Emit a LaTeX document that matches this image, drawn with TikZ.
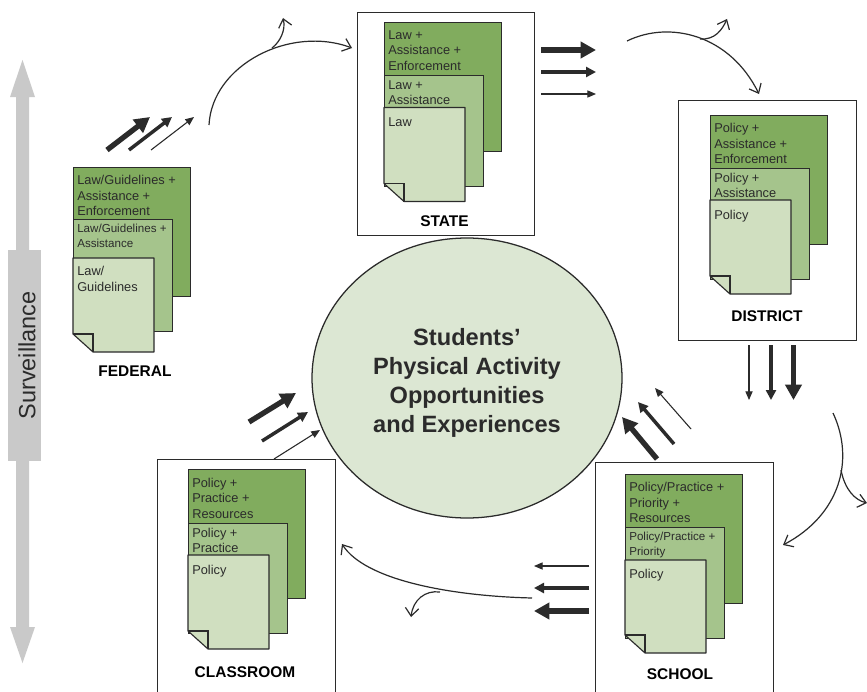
\documentclass[tikz,border=0pt]{standalone}
\usepackage{fontspec}
\setmainfont{Liberation Sans}
\usetikzlibrary{arrows.meta,shapes.geometric}
\definecolor{gdark}{HTML}{81AC5E}
\definecolor{gmid}{HTML}{A5C48C}
\definecolor{glight}{HTML}{D0DFC0}
\definecolor{gcircle}{HTML}{DCE7D3}
\definecolor{gsurv}{HTML}{C9C9C9}
\definecolor{ink}{HTML}{2B2B2B}
\tikzset{
  x=0.75pt,y=-0.75pt,
  sheetline/.style={draw=ink,line width=0.85pt,inner sep=0pt,anchor=north west},
  sheettext/.style={anchor=north west,inner sep=0pt,align=left,text=ink,font=\fontsize{9.6}{11.7}\selectfont},
  smalltext/.style={sheettext,font=\fontsize{8.7}{11.2}\selectfont},
  framebox/.style={draw=ink,line width=0.95pt,fill=white,inner sep=0pt,anchor=north west},
  levellabel/.style={inner sep=0pt,text=black,font=\fontsize{11.6}{13}\selectfont\bfseries},
  thickarrow/.style={draw=ink,fill=ink,line width=4pt,-{Triangle[length=11.5pt,width=12pt]}},
  medarrow/.style={draw=ink,fill=ink,line width=2.6pt,-{Triangle[length=7.5pt,width=7.5pt]}},
  thinarrow/.style={draw=ink,fill=ink,line width=0.8pt,-{Triangle[length=6.5pt,width=5.4pt]}},
  flow/.style={draw=ink,line width=0.9pt,-{Straight Barb[length=6pt,width=10pt]}},
}
% name, x1, y1, x2, y2, colour
\newcommand{\flatsheet}[6]{%
  \node[sheetline,fill=#6,minimum width={(#4-#2)*0.75pt},minimum height={(#5-#3)*0.75pt}] (#1) at (#2,#3) {};}
% name, x1, y1, x2, y2
\newcommand{\foldsheet}[5]{%
  \coordinate (#1) at (#2,#3);
  \filldraw[draw=ink,fill=glight,line width=0.85pt,line join=round]
    (#2,#3) -- (#4,#3) -- (#4,#5) -- ({#2+20},#5) -- (#2,{#5-18}) -- cycle;
  \draw[draw=ink,line width=0.85pt] (#2,{#5-18}) -- ({#2+20},{#5-18}) -- ({#2+20},#5);}
\begin{document}
\begin{tikzpicture}
\useasboundingbox (0,0) rectangle (867,692);
\fill[white] (0,0) rectangle (867,692);

% Surveillance axis
\coordinate (survTop) at (22.5,60);
\coordinate (survBot) at (22.5,663);
\fill[gsurv] (survTop) -- (35,97) -- (29,97) -- (29,627) -- (35,627) -- (survBot) -- (10,627) -- (16,627) -- (16,97) -- (10,97) -- cycle;
\node[fill=gsurv,minimum width={33*0.75pt},minimum height={211*0.75pt},inner sep=0pt] (survBox) at (24.5,355.5) {};
\node[rotate=90,inner sep=0pt,text=ink,font=\fontsize{17.6}{20}\selectfont] (survText) at (27,355.5) {Surveillance};

% Frames
\node[framebox,minimum width={177*0.75pt},minimum height={223*0.75pt}] (stateBox) at (357,12) {};
\node[framebox,minimum width={178*0.75pt},minimum height={240*0.75pt}] (districtBox) at (678,100) {};
\node[framebox,minimum width={178*0.75pt},minimum height={245*0.75pt}] (schoolBox) at (595,462) {};
\node[framebox,minimum width={178*0.75pt},minimum height={245*0.75pt}] (classBox) at (157,459) {};

% Circle
\node[ellipse,draw=ink,fill=gcircle,line width=0.95pt,minimum width={310*0.75pt},minimum height={280*0.75pt},inner sep=0pt] (circle) at (467,378) {};
\node[inner sep=0pt,align=center,text=ink,font=\fontsize{17.7}{21.7}\selectfont\bfseries] (circleText) at (467,383) {Students’\\Physical Activity\\Opportunities\\and Experiences};

% FEDERAL
\flatsheet{fedA}{73}{166.5}{190}{296}{gdark}
\flatsheet{fedB}{73}{219}{172}{331}{gmid}
\foldsheet{fedC}{73}{258}{154}{352}
\node[sheettext] (fedAt) at (77,175) {Law/Guidelines +\\Assistance +\\Enforcement};
\node[smalltext] (fedBt) at (77,223.5) {Law/Guidelines +\\Assistance};
\node[sheettext] (fedCt) at (77,266) {Law/\\Guidelines};
\node[levellabel] (fedL) at (135,371.5) {FEDERAL};

% STATE
\flatsheet{stA}{384}{22}{501}{151}{gdark}
\flatsheet{stB}{384}{75}{483}{186}{gmid}
\foldsheet{stC}{384}{107.5}{465}{201.5}
\node[sheettext] (stAt) at (388,30) {Law +\\Assistance +\\Enforcement};
\node[sheettext] (stBt) at (388,80) {Law +\\Assistance};
\node[sheettext] (stCt) at (388,117) {Law};
\node[levellabel] (stL) at (444.5,221.5) {STATE};

% DISTRICT
\flatsheet{diA}{710}{114.5}{827}{243.5}{gdark}
\flatsheet{diB}{710}{167.5}{809}{278.5}{gmid}
\foldsheet{diC}{710}{200}{791}{294}
\node[sheettext] (diAt) at (714,123) {Policy +\\Assistance +\\Enforcement};
\node[sheettext] (diBt) at (714,172.5) {Policy +\\Assistance};
\node[sheettext] (diCt) at (714,209.5) {Policy};
\node[levellabel] (diL) at (767,316.5) {DISTRICT};

% SCHOOL
\flatsheet{scA}{625}{474}{742}{603}{gdark}
\flatsheet{scB}{625}{527}{724}{638}{gmid}
\foldsheet{scC}{625}{560}{706}{653}
\node[sheettext] (scAt) at (629,482) {Policy/Practice +\\Priority +\\Resources};
\node[smalltext] (scBt) at (629,532) {Policy/Practice +\\Priority};
\node[sheettext] (scCt) at (629,569) {Policy};
\node[levellabel] (scL) at (680,674.5) {SCHOOL};

% CLASSROOM
\flatsheet{clA}{188}{469}{305}{598}{gdark}
\flatsheet{clB}{188}{523}{287}{633}{gmid}
\foldsheet{clC}{188}{555}{269}{649}
\node[sheettext] (clAt) at (192,477.5) {Policy +\\Practice +\\Resources};
\node[sheettext] (clBt) at (192,527.5) {Policy +\\Practice};
\node[sheettext] (clCt) at (192,564.5) {Policy};
\node[levellabel] (clL) at (245,672.5) {CLASSROOM};

% Straight arrow end points
\coordinate (f1a) at (107,150); \coordinate (f1b) at (150,117);
\coordinate (f2a) at (129,150); \coordinate (f2b) at (172,117);
\coordinate (f3a) at (151,150); \coordinate (f3b) at (194,117);
\coordinate (s1a) at (541,50); \coordinate (s1b) at (596,50);
\coordinate (s2a) at (541,72); \coordinate (s2b) at (596,72);
\coordinate (s3a) at (541,94); \coordinate (s3b) at (596,94);
\coordinate (d1a) at (793.5,345); \coordinate (d1b) at (793.5,400);
\coordinate (d2a) at (771,345); \coordinate (d2b) at (771,400);
\coordinate (d3a) at (749,345); \coordinate (d3b) at (749,400);
\coordinate (h1a) at (657,459); \coordinate (h1b) at (622,417);
\coordinate (h2a) at (674,444); \coordinate (h2b) at (638,402);
\coordinate (h3a) at (691,429); \coordinate (h3b) at (655,388);
\coordinate (l1a) at (589,611); \coordinate (l1b) at (534,611);
\coordinate (l2a) at (589,588); \coordinate (l2b) at (534,588);
\coordinate (l3a) at (589,566); \coordinate (l3b) at (534,566);
\coordinate (c1a) at (249,422); \coordinate (c1b) at (296,393);
\coordinate (c2a) at (262,441); \coordinate (c2b) at (308,412);
\coordinate (c3a) at (274,459); \coordinate (c3b) at (320,430);

\draw[thickarrow] (f1a) -- (f1b);
\draw[medarrow] (f2a) -- (f2b);
\draw[thinarrow] (f3a) -- (f3b);
\draw[thickarrow] (s1a) -- (s1b);
\draw[medarrow] (s2a) -- (s2b);
\draw[thinarrow] (s3a) -- (s3b);
\draw[thickarrow] (d1a) -- (d1b);
\draw[medarrow] (d2a) -- (d2b);
\draw[thinarrow] (d3a) -- (d3b);
\draw[thickarrow] (h1a) -- (h1b);
\draw[medarrow] (h2a) -- (h2b);
\draw[thinarrow] (h3a) -- (h3b);
\draw[thickarrow] (l1a) -- (l1b);
\draw[medarrow] (l2a) -- (l2b);
\draw[thinarrow] (l3a) -- (l3b);
\draw[thickarrow] (c1a) -- (c1b);
\draw[medarrow] (c2a) -- (c2b);
\draw[thinarrow] (c3a) -- (c3b);

% Curved flows with side branches
\coordinate (a1) at (209,125); \coordinate (a2) at (352,48);
\coordinate (a3) at (272,48); \coordinate (a4) at (283,18);
\draw[flow] (a1) .. controls (212,65) and (290,25) .. (a2);
\draw[flow] (a3) .. controls (280,42) and (286,30) .. (a4);

\coordinate (b1) at (627,41); \coordinate (b2) at (759,94);
\coordinate (b3) at (700,39); \coordinate (b4) at (727,19);
\draw[flow] (b1) .. controls (670,20) and (730,35) .. (b2);
\draw[flow] (b3) .. controls (715,40) and (722,30) .. (b4);

\coordinate (e1) at (833,413); \coordinate (e2) at (783,545);
\coordinate (e3) at (841,470); \coordinate (e4) at (867,503);
\draw[flow] (e1) .. controls (855,460) and (840,515) .. (e2);
\draw[flow] (e3) .. controls (845,490) and (855,500) .. (e4);

\coordinate (g1) at (532,598); \coordinate (g2) at (342,544);
\coordinate (g3) at (440,592); \coordinate (g4) at (411,617);
\draw[flow] (g1) .. controls (450,596) and (365,580) .. (g2);
\draw[flow] (g3) .. controls (425,590) and (413,600) .. (g4);
\end{tikzpicture}
\end{document}
